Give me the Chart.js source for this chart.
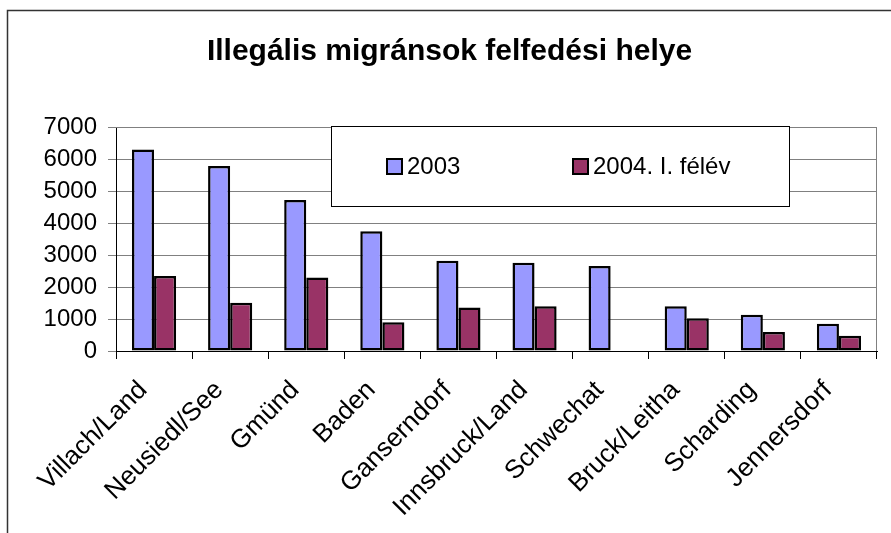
<!DOCTYPE html>
<html>
<head>
<meta charset="utf-8">
<script src="https://cdn.jsdelivr.net/npm/chart.js@4"></script>
<style>
  html, body { margin: 0; padding: 0; background: #fff; }
  #wrap { width: 891px; height: 533px; }
</style>
</head>
<body>
<div id="wrap"><canvas id="chart" width="891" height="533"></canvas></div>
<script>
const places = ["Villach/Land", "Neusiedl/See", "Gmünd", "Baden", "Ganserndorf",
  "Innsbruck/Land", "Schwechat", "Bruck/Leitha", "Scharding", "Jennersdorf"];
const y2003 = [6300, 5780, 4720, 3740, 2820, 2760, 2660, 1400, 1130, 850];
const y2004 = [2340, 1510, 2300, 900, 1360, 1400, null, 1020, 590, 480];
const yTicks = [0, 1000, 2000, 3000, 4000, 5000, 6000, 7000];

const FONT = "'Liberation Sans', Arial, sans-serif";

// outer frame + plot area border
const frame = {
  id: "frame",
  beforeDraw(c) {
    const ctx = c.ctx;
    ctx.save();
    ctx.strokeStyle = "#333";
    ctx.lineWidth = 1.5;
    ctx.strokeRect(7.5, 10.5, 2000, 2000);
    ctx.restore();
  },
  afterDatasetsDraw(c) {
    const a = c.chartArea, ctx = c.ctx;
    ctx.save();
    ctx.strokeStyle = "#808080";
    ctx.lineWidth = 1;
    ctx.beginPath();
    ctx.moveTo(a.left, a.top + 0.5);
    ctx.lineTo(a.right - 0.5, a.top + 0.5);
    ctx.lineTo(a.right - 0.5, a.bottom);
    ctx.stroke();
    ctx.restore();
  }
};

// legend box drawn over the plot area, like the original
const boxLegend = {
  id: "boxLegend",
  afterDraw(c) {
    const ctx = c.ctx;
    const x = 331, y = 126, w = 458, h = 80;
    ctx.save();
    ctx.fillStyle = "#fff";
    ctx.fillRect(x, y, w, h);
    ctx.strokeStyle = "#000";
    ctx.lineWidth = 1;
    ctx.strokeRect(x + 0.5, y + 0.5, w, h);
    ctx.font = "24px " + FONT;
    ctx.textBaseline = "middle";
    const xs = [387, 573];
    c.data.datasets.forEach((d, i) => {
      ctx.fillStyle = d.backgroundColor;
      ctx.fillRect(xs[i], 159, 15, 15);
      ctx.strokeStyle = "#000";
      ctx.lineWidth = 2;
      ctx.strokeRect(xs[i], 159, 15, 15);
      ctx.fillStyle = "#000";
      ctx.fillText(d.label, xs[i] + 20, 167);
    });
    ctx.restore();
  }
};

new Chart(document.getElementById("chart"), {
  type: "bar",
  data: {
    labels: places,
    datasets: [
      {
        label: "2003",
        data: y2003,
        backgroundColor: "#9999FF",
        borderColor: "#000",
        borderWidth: 2.5,
        borderSkipped: false,
      },
      {
        label: "2004. I. félév",
        data: y2004,
        backgroundColor: "#993366",
        borderColor: "#000",
        borderWidth: 2.5,
        borderSkipped: false,
      },
    ],
  },
  options: {
    responsive: false,
    animation: false,
    layout: { padding: { left: 22, right: 14, top: 0, bottom: 0 } },
    datasets: { bar: { categoryPercentage: 0.58, barPercentage: 1.0 } },
    plugins: {
      legend: { display: false },
      tooltip: { enabled: false },
      title: {
        display: true,
        text: "Illegális migránsok felfedési helye",
        color: "#000",
        font: { family: FONT, size: 30, weight: "bold" },
        padding: { top: 34, bottom: 57 },
      },
    },
    scales: {
      x: {
        grid: { drawOnChartArea: false, tickLength: 8, color: "#000" },
        border: { color: "#000", width: 1 },
        ticks: {
          color: "#000",
          font: { family: FONT, size: 26 },
          minRotation: 45,
          maxRotation: 45,
          padding: 16,
          labelOffset: -11,
        },
        afterFit(s) { s.height = 182; },
      },
      y: {
        min: 0,
        max: 7000,
        afterBuildTicks(s) { s.ticks = yTicks.map((v) => ({ value: v })); },
        grid: { color: "#808080", tickLength: 8 },
        border: { color: "#000", width: 1 },
        ticks: {
          color: "#000",
          font: { family: FONT, size: 24 },
          padding: 11,
          callback: (v) => String(v),
        },
        afterFit(s) { s.width = 94; },
      },
    },
  },
  plugins: [frame, boxLegend],
});
</script>
</body>
</html>
